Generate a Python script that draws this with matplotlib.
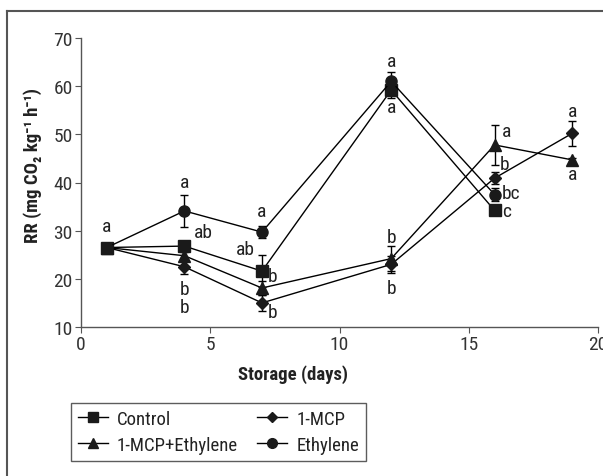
import matplotlib
matplotlib.use("Agg")
import matplotlib.pyplot as plt
from matplotlib.lines import Line2D

plt.rcParams['font.family'] = ['Liberation Sans Narrow', 'Roboto Condensed', 'Roboto', 'DejaVu Sans']

days_control = [1, 4, 7, 12, 16]
control = [26.5, 26.8, 21.6, 59.2, 34.2]
control_err = [0.4, 0.5, 3.3, 1.6, 0.4]

days_mcp = [1, 4, 7, 12, 16, 19]
mcp = [26.5, 22.5, 15.0, 23.0, 40.9, 50.2]
mcp_err = [0.4, 1.5, 1.6, 1.8, 1.2, 2.6]

days_mcp_eth = [1, 4, 7, 12, 16, 19]
mcp_eth = [26.5, 24.8, 18.1, 24.2, 47.8, 44.7]
mcp_eth_err = [0.4, 0.8, 1.5, 2.6, 4.2, 0.4]

days_eth = [1, 4, 7, 12, 16]
eth = [26.5, 34.1, 29.7, 61.0, 37.5]
eth_err = [0.4, 3.3, 1.2, 2.0, 1.4]

# significance letters: (x, y, text)
letters = [
    (1, 31.0, "a"),
    (4, 40.0, "a"), (4.75, 29.7, "ab"), (4, 17.9, "b"), (4, 14.1, "b"),
    (7, 34.1, "a"), (6.35, 26.2, "ab"), (7.4, 20.6, "b"), (7.4, 13.1, "b"),
    (12, 65.2, "a"), (12, 55.6, "a"), (12, 28.6, "b"), (12, 18.2, "b"),
    (16.45, 50.7, "a"), (16.4, 43.8, "b"), (16.65, 37.8, "bc"), (16.45, 34.1, "c"),
    (19, 54.8, "a"), (19, 41.7, "a"),
]

fig = plt.figure(figsize=(6.03, 4.77), dpi=100)

# outer frame lines (top and left)
fig.add_artist(Line2D([7/603, 7/603], [0, 1 - 12/477], transform=fig.transFigure, color='#555555', lw=1.5))
fig.add_artist(Line2D([7/603, 1], [1 - 12/477, 1 - 12/477], transform=fig.transFigure, color='#555555', lw=1.5))

ax = fig.add_axes([81/603, 1 - 328/477, (598 - 81)/603, (328 - 39)/477])

mk = '#1a1a1a'
common = dict(color='black', lw=1.0, mfc=mk, mec=mk, ecolor='black', elinewidth=1.0, capsize=3, capthick=1.0)
series = [
    (days_control, control, control_err, 's', 8, 'Control'),
    (days_mcp, mcp, mcp_err, 'D', 6, '1-MCP'),
    (days_mcp_eth, mcp_eth, mcp_eth_err, '^', 8, '1-MCP+Ethylene'),
    (days_eth, eth, eth_err, 'o', 8, 'Ethylene'),
]
handles = {}
for d, v, e, m, s, lab in series:
    ax.errorbar(d, v, yerr=e, marker=m, ms=s, **common)
    handles[lab] = Line2D([], [], color='black', lw=1.0, marker=m, ms=s - 1, mfc=mk, mec=mk)

for x, y, t in letters:
    ax.text(x, y, t, ha='center', va='center', fontsize=14, color='#222222')

ax.set_xlim(0, 20)
ax.set_ylim(10, 70)
ax.set_xticks([0, 5, 10, 15, 20])
ax.set_yticks([10, 20, 30, 40, 50, 60, 70])
for s in ['top', 'right']:
    ax.spines[s].set_visible(False)
for s in ['left', 'bottom']:
    ax.spines[s].set_color('#555555')
    ax.spines[s].set_linewidth(1.0)
ax.tick_params(axis='both', direction='out', length=4, color='#555555', labelsize=14, labelcolor='#333333')
ax.tick_params(axis='x', pad=2)
ax.tick_params(axis='y', pad=2)

ax.set_xlabel('Storage (days)', fontsize=13.5, fontweight='bold', color='#222222')
ax.xaxis.set_label_coords(0.41, -0.13)
ax.set_ylabel('RR (mg CO₂ kg⁻¹ h⁻¹)', fontsize=13.5, fontweight='bold', color='#222222')
ax.yaxis.set_label_coords(-0.076, 0.564)

order = ['Control', '1-MCP+Ethylene', '1-MCP', 'Ethylene']
leg = fig.legend([handles[k] for k in order], order, ncol=2,
                 loc='upper left', bbox_to_anchor=(71/603, 1 - 404/477),
                 borderaxespad=0.0,
                 frameon=True, fancybox=False, edgecolor='#333333', fontsize=13.5,
                 handlelength=1.6, columnspacing=1.0, borderpad=0.35, labelspacing=0.45,
                 handletextpad=0.5)
leg.get_frame().set_linewidth(1.0)
for t in leg.get_texts():
    t.set_color('#222222')

fig.savefig('out.png', dpi=100)
